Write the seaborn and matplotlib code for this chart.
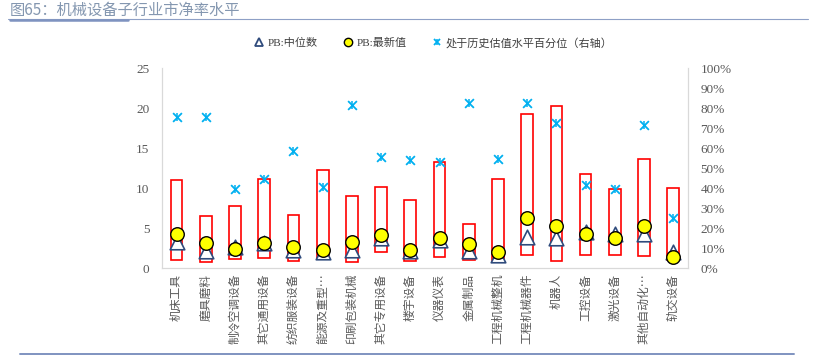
import numpy as np
import pandas as pd
import seaborn as sns
import matplotlib.pyplot as plt
from matplotlib.lines import Line2D
from matplotlib.ticker import PercentFormatter

cats = ['机床工具', '磨具磨料', '制冷空调设备', '其它通用设备', '纺织服装设备', '能源及重型…',
        '印刷包装机械', '其它专用设备', '楼宇设备', '仪器仪表', '金属制品', '工程机械整机',
        '工程机械器件', '机器人', '工控设备', '激光设备', '其他自动化…', '轨交设备']
pb_max = [11.0, 6.5, 7.7, 11.1, 6.6, 12.2, 9.0, 10.1, 8.5, 13.3, 5.5, 11.1,
          19.3, 20.3, 11.7, 9.9, 13.6, 10.0]
pb_min = [1.0, 0.75, 1.15, 1.25, 0.85, 1.25, 0.75, 1.95, 0.95, 1.35, 1.0, 1.0,
          1.6, 0.85, 1.6, 1.6, 1.55, 1.0]
pb_median = [3.3, 2.1, 2.6, 3.1, 2.2, 2.0, 2.2, 3.8, 2.1, 3.5, 2.1, 1.6,
             3.9, 3.8, 4.45, 4.25, 4.3, 2.0]
pb_latest = [4.3, 3.1, 2.4, 3.1, 2.6, 2.2, 3.2, 4.1, 2.3, 3.7, 3.0, 2.0,
             6.25, 5.2, 4.3, 3.75, 5.3, 1.35]
pct = [0.755, 0.755, 0.395, 0.445, 0.587, 0.405, 0.815, 0.555, 0.54, 0.532, 0.827, 0.545,
       0.827, 0.727, 0.417, 0.393, 0.713, 0.248]

sns.set_style("white")
plt.rcParams['font.family'] = ['Liberation Serif', 'Noto Sans CJK SC', 'DejaVu Sans']

df = pd.DataFrame({'x': np.arange(len(cats)), 'cat': cats, 'lo': pb_min, 'hi': pb_max,
                   'median': pb_median, 'latest': pb_latest, 'pct': pct})

fig = plt.figure(figsize=(8.14, 3.57), dpi=100)
ax = fig.add_axes([0.199, 0.249, 0.646, 0.5605])

grey = '#595959'
spine_c = '#d9d9d9'
navy = '#2f4b7c'
cyan = '#00b0f0'

ax.bar(df['x'], df['hi'] - df['lo'], bottom=df['lo'], width=0.4,
       facecolor='none', edgecolor='#ff0000', linewidth=1.2, zorder=2)
sns.scatterplot(data=df, x='x', y='median', marker='^', s=110, facecolor='white',
                edgecolor=navy, linewidth=1.2, ax=ax, zorder=3, legend=False)
sns.scatterplot(data=df, x='x', y='latest', marker='o', s=95, color='#ffff00',
                edgecolor='black', linewidth=1.0, ax=ax, zorder=4, legend=False)

ax.set_xlim(-0.5, len(cats) - 0.5)
ax.set_ylim(0, 25)
ax.set_yticks(range(0, 26, 5))
ax.set_xticks(df['x'])
ax.set_xticklabels(cats, rotation=90, fontsize=8.5, color=grey,
                   family=['Noto Sans CJK SC', 'DejaVu Sans'], va='top', ha='center')
ax.set_xlabel('')
ax.set_ylabel('')
ax.tick_params(axis='y', labelsize=9.5, colors=grey, length=0, pad=9)
ax.tick_params(axis='x', length=0, pad=4)
for s in ['left', 'bottom', 'right']:
    ax.spines[s].set_color(spine_c)
ax.spines['top'].set_visible(False)

ax2 = ax.twinx()
# Excel-style star: an x with a short vertical stroke through it
sns.scatterplot(data=df, x='x', y='pct', marker='x', s=40, color=cyan,
                linewidth=1.3, ax=ax2, zorder=5, legend=False)
sns.scatterplot(data=df, x='x', y='pct', marker='|', s=30, color=cyan,
                linewidth=1.1, ax=ax2, zorder=5, legend=False)
ax2.set_ylim(0, 1)
ax2.set_yticks(np.linspace(0, 1, 11))
ax2.yaxis.set_major_formatter(PercentFormatter(1.0, decimals=0))
ax2.tick_params(axis='y', labelsize=9.5, colors=grey, length=0, pad=9)
ax2.set_ylabel('')
ax2.set_xlabel('')
for s in ['left', 'bottom', 'right']:
    ax2.spines[s].set_color(spine_c)
ax2.spines['top'].set_visible(False)

star_h = (Line2D([], [], linestyle='none', marker='x', markersize=5, color=cyan,
                 markeredgewidth=1.3),
          Line2D([], [], linestyle='none', marker='|', markersize=4.5, color=cyan,
                 markeredgewidth=1.1))
handles = [
    Line2D([], [], linestyle='none', marker='^', markersize=6, markerfacecolor='white',
           markeredgecolor=navy, markeredgewidth=1.3),
    Line2D([], [], linestyle='none', marker='o', markersize=6, markerfacecolor='#ffff00',
           markeredgecolor='black', markeredgewidth=1.0),
    star_h,
]
labels = ['PB:中位数', 'PB:最新值', '处于历史估值水平百分位（右轴）']
fig.legend(handles, labels, loc='center', bbox_to_anchor=(0.532, 0.88), ncol=3,
           frameon=False, fontsize=8, handletextpad=0.3, columnspacing=2.2,
           handlelength=1.0, labelcolor='#404040')

fig.text(0.012, 0.995, '图65：机械设备子行业市净率水平', fontsize=11, color='#8497b0',
         family=['Noto Sans CJK SC', 'DejaVu Sans'], va='top', ha='left')
fig.add_artist(Line2D([0.01, 0.993], [0.947, 0.947], color='#8ea0c6', linewidth=0.8,
                      transform=fig.transFigure))
fig.add_artist(Line2D([0.012, 0.157], [0.945, 0.945], color='#7f93c0', linewidth=1.8,
                      transform=fig.transFigure))
fig.add_artist(Line2D([0.025, 0.975], [0.009, 0.009], color='#7f93c0', linewidth=1.4,
                      transform=fig.transFigure))

fig.savefig('out.png', dpi=100)
